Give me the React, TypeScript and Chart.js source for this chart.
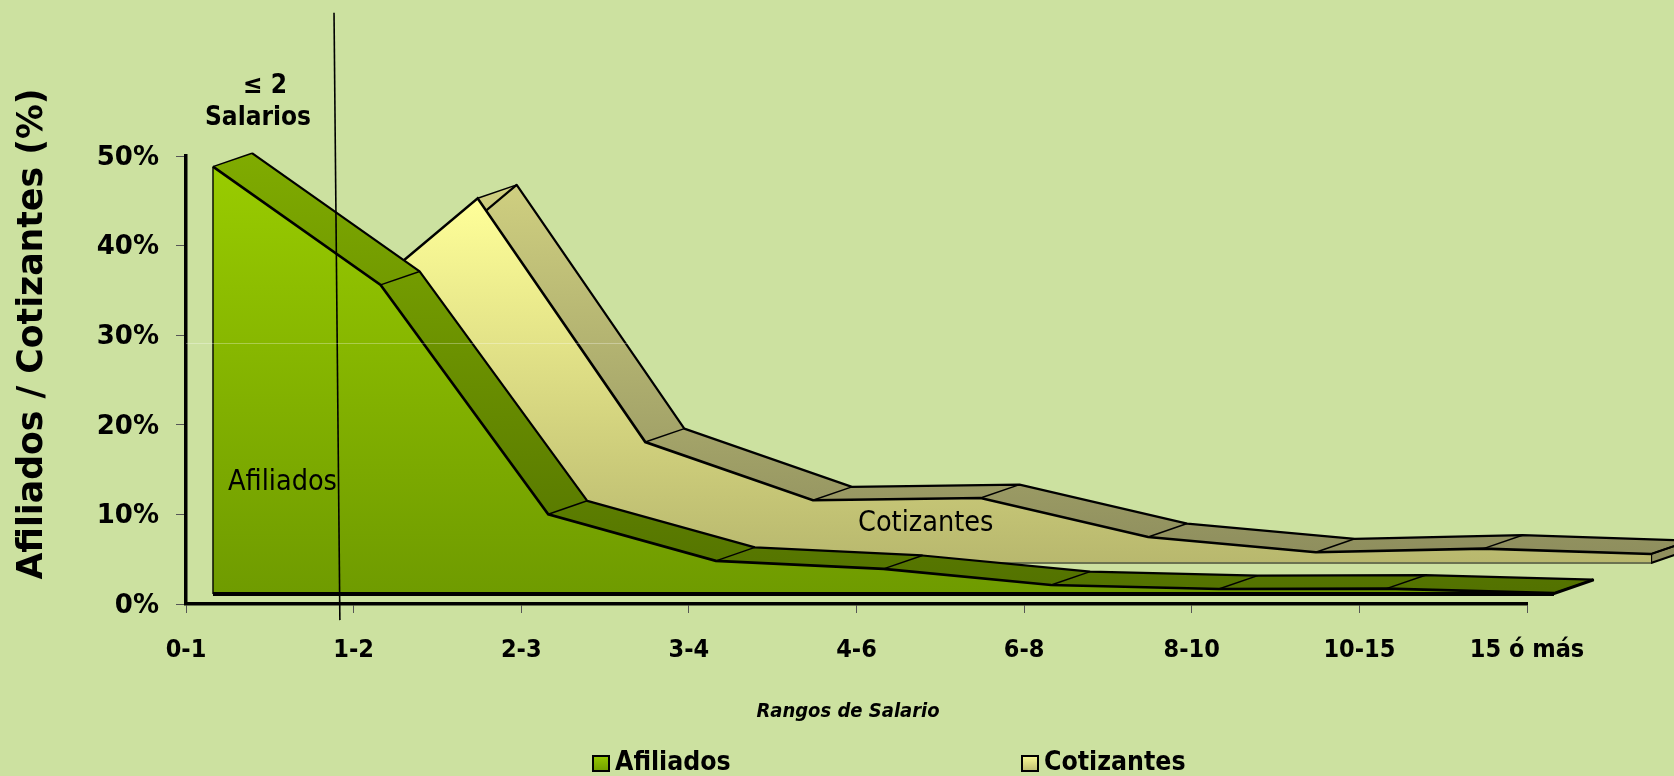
import React, { useEffect, useRef } from "react";
import { Chart, registerables } from "chart.js";

Chart.register(...registerables);

const categories = ["0-1", "1-2", "2-3", "3-4", "4-6", "6-8", "8-10", "10-15", "15 ó más"];
const afiliados = [47.7, 34.5, 8.9, 3.7, 2.8, 1.0, 0.55, 0.6, 0.1];
const cotizantes = [25.0, 40.7, 13.5, 7.0, 7.25, 2.9, 1.2, 1.6, 1.0];
const yTicks = [0, 10, 20, 30, 40, 50];
const salaryLineX = [0.883, 0.918];
const salaryLineY = [66, -1.8];
const yTitle = "Afiliados / Cotizantes (%)";
const xTitle = "Rangos de Salario";
const bracketLabel = ["≤ 2", "Salarios"];

const BG = "#CCE1A0";
const COND = '"DejaVu Sans Condensed", "DejaVu Sans", sans-serif';
const WIDE = '"DejaVu Sans", sans-serif';

// 3-D projection of each series' plane, in scale units
const DEPTH = { dx: 0.2327, dy: 1.5 };
const SERIES = [
  { key: "Afiliados", plane: { dx: 0.161, dy: 1.116 }, values: afiliados,
    face: ["#99CC00", "#6F9B00"], side: ["#80AC00", "#537200"],
    faceRange: [165, 594], sideRange: [150, 590], base: "#000000", baseW: 4 },
  { key: "Cotizantes", plane: { dx: 0.74, dy: 4.576 }, values: cotizantes,
    face: ["#FFFF99", "#B8B86E"], side: ["#CFCF80", "#8F8F5E"],
    faceRange: [198, 563], sideRange: [185, 550], base: "#6B7350", baseW: 2 },
];

function grad(ctx: CanvasRenderingContext2D, range: number[], colors: string[]) {
  const g = ctx.createLinearGradient(0, range[0], 0, range[1]);
  g.addColorStop(0, colors[0]);
  g.addColorStop(1, colors[1]);
  return g;
}

const solidPlugin = {
  id: "solid3d",
  beforeDatasetDraw(chart: any, args: any) {
    const s = SERIES.find((it) => it.key === chart.data.datasets[args.index].label);
    if (!s) return;
    const { ctx, scales: { x, y } } = chart;
    const n = s.values.length;
    const front = (i: number) => [x.getPixelForValue(i + s.plane.dx), y.getPixelForValue(s.values[i] + s.plane.dy)];
    const back = (i: number) => [
      x.getPixelForValue(i + s.plane.dx + DEPTH.dx),
      y.getPixelForValue(s.values[i] + s.plane.dy + DEPTH.dy),
    ];
    const baseY = y.getPixelForValue(s.plane.dy);
    const backBaseY = y.getPixelForValue(s.plane.dy + DEPTH.dy);
    ctx.save();
    ctx.lineJoin = "round";
    const sideFill = grad(ctx, s.sideRange, s.side);
    // depth faces
    for (let i = 0; i < n - 1; i++) {
      const a = front(i), b = front(i + 1), c = back(i + 1), d = back(i);
      ctx.beginPath();
      ctx.moveTo(a[0], a[1]);
      ctx.lineTo(b[0], b[1]);
      ctx.lineTo(c[0], c[1]);
      ctx.lineTo(d[0], d[1]);
      ctx.closePath();
      ctx.fillStyle = sideFill;
      ctx.fill();
    }
    // end cap
    const fe = front(n - 1), be = back(n - 1);
    ctx.beginPath();
    ctx.moveTo(fe[0], fe[1]);
    ctx.lineTo(fe[0], baseY);
    ctx.lineTo(be[0], backBaseY);
    ctx.lineTo(be[0], be[1]);
    ctx.closePath();
    ctx.fillStyle = sideFill;
    ctx.fill();
    ctx.strokeStyle = "#000";
    ctx.lineWidth = 2.2;
    ctx.stroke();
    // back edge and dividers
    ctx.lineWidth = 2.2;
    ctx.beginPath();
    for (let i = 0; i < n; i++) {
      const d = back(i);
      if (i === 0) ctx.moveTo(d[0], d[1]);
      else ctx.lineTo(d[0], d[1]);
    }
    ctx.stroke();
    ctx.lineWidth = 1.5;
    for (let i = 0; i < n; i++) {
      const a = front(i), d = back(i);
      ctx.beginPath();
      ctx.moveTo(a[0], a[1]);
      ctx.lineTo(d[0], d[1]);
      ctx.stroke();
    }
    // front face
    const f0 = front(0);
    ctx.beginPath();
    ctx.moveTo(f0[0], baseY);
    for (let i = 0; i < n; i++) {
      const p = front(i);
      ctx.lineTo(p[0], p[1]);
    }
    ctx.lineTo(fe[0], baseY);
    ctx.closePath();
    ctx.fillStyle = grad(ctx, s.faceRange, s.face);
    ctx.fill();
    // left edge and floor line
    ctx.strokeStyle = "#000";
    ctx.lineWidth = 1.4;
    ctx.beginPath();
    ctx.moveTo(f0[0], f0[1]);
    ctx.lineTo(f0[0], baseY);
    ctx.stroke();
    ctx.strokeStyle = s.base;
    ctx.lineWidth = s.baseW;
    ctx.beginPath();
    ctx.moveTo(f0[0], baseY);
    ctx.lineTo(fe[0], baseY);
    ctx.stroke();
    ctx.restore();
  },
};

const textPlugin = {
  id: "texts",
  afterDatasetsDraw(chart: any) {
    const { ctx } = chart;
    ctx.save();
    // faint highlight across the plot
    ctx.strokeStyle = "rgba(255,255,255,0.3)";
    ctx.lineWidth = 1;
    ctx.beginPath();
    ctx.moveTo(186, 343.5);
    ctx.lineTo(630, 343.5);
    ctx.stroke();
    ctx.fillStyle = "#000";
    ctx.textBaseline = "middle";
    // rotated y title
    ctx.save();
    ctx.translate(33, 334);
    ctx.rotate(-Math.PI / 2);
    ctx.textAlign = "center";
    ctx.font = `bold 34.7px ${WIDE}`;
    ctx.fillText(yTitle, 0, 0);
    ctx.restore();
    // x title
    ctx.textAlign = "center";
    ctx.font = `italic bold 20px ${COND}`;
    ctx.fillText(xTitle, 848, 712);
    // notes
    ctx.font = `bold 26px ${COND}`;
    ctx.fillText(bracketLabel[0], 265, 86);
    ctx.fillText(bracketLabel[1], 258, 118);
    ctx.font = `28.5px ${COND}`;
    ctx.textAlign = "left";
    ctx.fillText(SERIES[0].key, 228, 483);
    ctx.fillText(SERIES[1].key, 858, 524);
    // legend
    const entries = [
      { s: SERIES[0], box: 593, text: 615 },
      { s: SERIES[1], box: 1022, text: 1044 },
    ];
    ctx.font = `bold 26.4px ${COND}`;
    for (const e of entries) {
      ctx.fillStyle = grad(ctx, [755, 772], e.s.face);
      ctx.fillRect(e.box, 756, 16, 15);
      ctx.strokeStyle = "#000";
      ctx.lineWidth = 2;
      ctx.strokeRect(e.box, 756, 16, 15);
      ctx.fillStyle = "#000";
      ctx.fillText(e.s.key, e.text, 763);
    }
    ctx.restore();
  },
};

export default function App() {
  const ref = useRef<HTMLCanvasElement>(null);
  useEffect(() => {
    const toPoints = (s: (typeof SERIES)[number]) =>
      s.values.map((v, i) => ({ x: i + s.plane.dx, y: v + s.plane.dy }));
    const chart = new Chart(ref.current as HTMLCanvasElement, {
      type: "scatter",
      data: {
        datasets: [
          {
            label: "Límite",
            data: salaryLineX.map((x, i) => ({ x, y: salaryLineY[i] })),
            showLine: true, borderColor: "#000", borderWidth: 1.6, pointRadius: 0, clip: false,
          },
          {
            label: SERIES[0].key, data: toPoints(SERIES[0]),
            showLine: true, borderColor: "#000", borderWidth: 2.6, pointRadius: 0, clip: false,
          },
          {
            label: SERIES[1].key, data: toPoints(SERIES[1]),
            showLine: true, borderColor: "#000", borderWidth: 2.6, pointRadius: 0, clip: false,
          },
        ],
      },
      options: {
        animation: false,
        responsive: false,
        layout: { padding: { top: 156, right: 147, left: 0, bottom: 0 } },
        plugins: { legend: { display: false }, tooltip: { enabled: false } },
        scales: {
          x: {
            type: "linear", min: 0, max: categories.length - 1,
            afterFit: (s: any) => { s.height = 172; },
            border: { color: "#000", width: 3.5 },
            grid: { drawOnChartArea: false, drawTicks: true, tickLength: 9, color: "#555", lineWidth: 1 },
            ticks: {
              stepSize: 1, autoSkip: false, maxRotation: 0, padding: 22,
              color: "#000", font: { family: COND, size: 25, weight: "bold" },
              callback: (v: any) => categories[v as number] ?? "",
            },
          },
          y: {
            min: yTicks[0], max: yTicks[yTicks.length - 1],
            afterFit: (s: any) => { s.width = 186; },
            border: { color: "#000", width: 3.5 },
            grid: { drawOnChartArea: false, drawTicks: true, tickLength: 10, color: "#555", lineWidth: 1 },
            ticks: {
              stepSize: 10, padding: 17, labelOffset: 2,
              color: "#000", font: { family: WIDE, size: 26, weight: "bold" },
              callback: (v: any) => `${v}%`,
            },
          },
        },
      },
      plugins: [solidPlugin, textPlugin],
    } as any);
    return () => chart.destroy();
  }, []);
  return (
    <div style={{ position: "fixed", inset: 0, background: BG, overflow: "hidden" }}>
      <canvas ref={ref} width={1674} height={776} style={{ display: "block" }} />
    </div>
  );
}
